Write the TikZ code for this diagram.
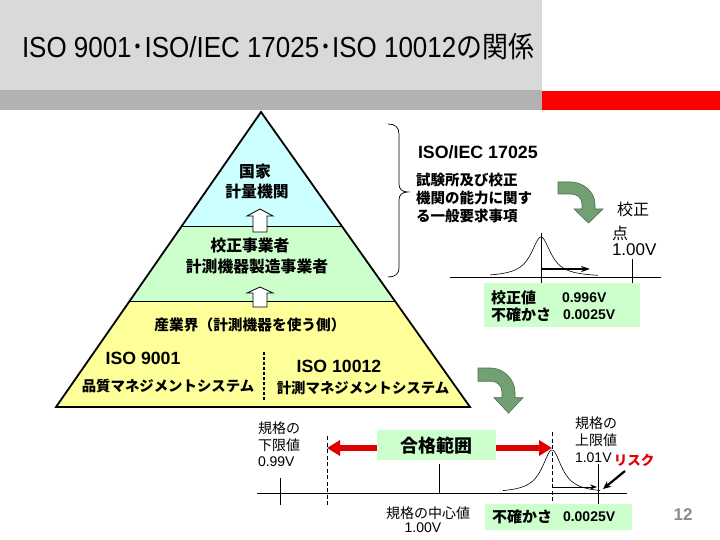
\documentclass[tikz,border=0pt]{standalone}
\usepackage{graphicx}
\usepackage{fontspec}
\setmainfont{Liberation Sans}
\newfontfamily\cjk{Noto Sans CJK JP}
\usetikzlibrary{arrows.meta}
\definecolor{titlegray}{HTML}{D9D9D9}
\definecolor{bandgray}{HTML}{B2B2B2}
\definecolor{bandred}{HTML}{FF0000}
\definecolor{pcyan}{HTML}{CCFFFF}
\definecolor{pgreen}{HTML}{CCFFCC}
\definecolor{pyellow}{HTML}{FFFF99}
\definecolor{boxgreen}{HTML}{CCFFCC}
\definecolor{arrowgreen}{HTML}{72A072}
\definecolor{arrowedge}{HTML}{4A704A}
\definecolor{riskred}{HTML}{E00000}
\definecolor{pagegray}{HTML}{8C8C8C}
\tikzset{
  txt/.style={inner sep=0pt, outer sep=0pt},
  jb/.style={txt, font={\cjk\bfseries\fontsize{#1}{#1}\selectfont}},
  jr/.style={txt, font={\cjk\fontsize{#1}{#1}\selectfont}},
  lb/.style={txt, font={\bfseries\fontsize{#1}{#1}\selectfont}},
  lr/.style={txt, font={\fontsize{#1}{#1}\selectfont}},
  gbox/.style={fill=boxgreen, inner sep=0pt, anchor=north west},
  uparrow/.style={draw=black, fill=white, line width=0.8pt, line join=miter},
  redarrow/.style={draw=riskred, line width=6pt, -{Triangle[length=13pt,width=15pt]}},
  dashline/.style={line width=0.8pt, dash pattern=on 4pt off 2.5pt},
  bendarrow/.pic={
    \filldraw[fill=arrowgreen, draw=arrowedge, line width=0.6pt]
      (0,0) -- (13,0) .. controls (25,0) and (37,10) .. (37,22) -- (37,27)
      -- (45,27) -- (30.5,41) -- (16,27) -- (24,27) -- (24,22)
      .. controls (24,16) and (19,12) .. (13,12) -- (0,12) -- cycle;
  }
}
\begin{document}
\begin{tikzpicture}[x=1pt,y=-1pt]
\useasboundingbox (0,0) rectangle (720,540);
\fill[white] (0,0) rectangle (720,540);
% title band
\fill[titlegray] (0,0) rectangle (542,90);
\fill[bandgray] (0,90) rectangle (542,110);
\fill[bandred] (542,91) rectangle (720,110);
\node[txt, anchor=west] (title) at (22,47) {\fontsize{29}{29}\selectfont\scalebox{0.895}[1]{ISO 9001{\cjk ･}ISO/IEC 17025{\cjk ･}ISO 10012{\cjk の関係}}};
% pyramid
\coordinate (apex) at (261,112);
\coordinate (bl) at (56,407);
\coordinate (br) at (470,407);
\begin{scope}
  \clip (apex) -- (bl) -- (br) -- cycle;
  \fill[pcyan] (0,100) rectangle (720,227);
  \fill[pgreen] (0,227) rectangle (720,301);
  \fill[pyellow] (0,301) rectangle (720,410);
  \draw[line width=1pt] (0,227) -- (720,227);
  \draw[line width=1pt] (0,301) -- (720,301);
\end{scope}
\draw[line width=1.8pt, line join=miter] (apex) -- (bl) -- (br) -- cycle;
\draw[uparrow] (260,209) -- (273,216) -- (267,216) -- (267,232) -- (253,232) -- (253,216) -- (247,216) -- cycle;
\draw[uparrow] (260,287) -- (273,293) -- (267,293) -- (267,307) -- (253,307) -- (253,293) -- (247,293) -- cycle;
\node[jb=15.8] (nat) at (255,172) {国家};
\node[jb=15.8] (natb) at (257,191) {計量機関};
\node[jb=15.8] (cal1) at (250,246) {校正事業者};
\node[jb=15.8] (cal2) at (257,267) {計測機器製造事業者};
\node[jb=14.7] (ind) at (250,325) {産業界（計測機器を使う側）};
\node[lb=17.7] (iso9) at (143,358) {ISO 9001};
\node[jb=14.4] (qms) at (168,386) {品質マネジメントシステム};
\node[lb=17.7] (iso10) at (339,366) {ISO 10012};
\node[jb=14.4] (mms) at (363,388) {計測マネジメントシステム};
\draw[line width=1.8pt, dash pattern=on 3pt off 2pt] (264,352) -- (264,402);
% brace
\draw[line width=0.7pt] (388,124) .. controls (395,124) and (399,127) .. (399,134) -- (399,184)
  .. controls (399,189) and (402,192) .. (408,192)
  .. controls (402,192) and (399,195) .. (399,200) -- (399,268)
  .. controls (399,274) and (395,277) .. (388,277);
\node[lb=17.8, anchor=west] (iec) at (418,152) {ISO/IEC 17025};
\node[jb=14.5, anchor=west] (req1) at (416,180) {試験所及び校正};
\node[jb=14.5, anchor=west] (req2) at (416,198) {機関の能力に関す};
\node[jb=14.5, anchor=west] (req3) at (416,216) {る一般要求事項};
\pic at (558,182) {bendarrow};
% top graph
\node[jr=16, anchor=west] (cp1) at (617,209) {校正};
\node[jr=16, anchor=west] (cp2) at (612,233) {点};
\node[lr=17, anchor=west] (cp3) at (612,250) {1.00V};
\coordinate (ax1l) at (450,277);
\coordinate (ax1r) at (661,277);
\draw[line width=0.8pt] (ax1l) -- (ax1r);
\draw[line width=0.8pt] (541,233) -- (541,283);
\draw[line width=0.8pt] (632,259) -- (632,283);
\draw[line width=0.6pt] plot[domain=490:598, samples=120, smooth] (\x, {277-40/(1+((\x-541)/12)^2)});
\coordinate (u1s) at (541,269);
\coordinate (u1e) at (590,269);
\draw[line width=1.6pt, -{Stealth[length=9pt,width=6pt]}] (u1s) -- (u1e);
\node[gbox, minimum width=156pt, minimum height=44pt] (calbox) at (484,283) {};
\node[jb=15, anchor=west] (cv) at (491,298) {校正値};
\node[lb=14, anchor=west] (cvn) at (562,298) {0.996V};
\node[jb=15, anchor=west] (un) at (491,315) {不確かさ};
\node[lb=14, anchor=west] (unn) at (563,315) {0.0025V};
% bottom graph
\pic[yscale=1.1] at (478,368) {bendarrow};
\draw[line width=0.8pt] (257,493) -- (627,493);
\draw[line width=0.8pt] (280,478) -- (280,505);
\draw[dashline] (327,436) -- (327,505);
\draw[line width=0.8pt] (439,464) -- (439,493);
\draw[dashline] (552,432) -- (552,505);
\draw[line width=0.8pt] (598,464) -- (598,505);
\draw[line width=0.6pt] plot[domain=503:600, samples=120, smooth] (\x, {493-43/(1+((\x-552)/12)^2)});
\node[gbox, minimum width=119pt, minimum height=30pt] (okbox) at (377,430) {};
\node[jb=18] (ok) at (436.5,446) {合格範囲};
\coordinate (rl) at (327,448);
\coordinate (rr) at (552,448);
\draw[redarrow] (okbox.west |- rl) -- (rl);
\draw[redarrow] (okbox.east |- rr) -- (rr);
\coordinate (u2s) at (552,487);
\coordinate (u2e) at (597,487);
\draw[line width=0.8pt, -{Stealth[length=7pt,width=5pt]}] (u2s) -- (u2e);
\node[jr=14, anchor=west] (lo1) at (258,428) {規格の};
\node[jr=14, anchor=west] (lo2) at (258,445) {下限値};
\node[lr=14, anchor=west] (lo3) at (258,462) {0.99V};
\node[jr=14, anchor=west] (hi1) at (575,423) {規格の};
\node[jr=14, anchor=west] (hi2) at (575,440) {上限値};
\node[lr=14, anchor=west] (hi3) at (575,458) {1.01V};
\node[jb=13.5, text=riskred] (risk) at (634,460) {リスク};
\coordinate (rk) at (603,489);
\draw[line width=2.2pt, -{Stealth[length=8pt,width=7pt]}] (625,471) -- (rk);
\node[jr=14] (c1) at (428,513) {規格の中心値};
\node[lr=14] (c2) at (423,528) {1.00V};
\node[gbox, minimum width=147pt, minimum height=26pt] (unbox) at (485,504) {};
\node[jb=15, anchor=west] (un2) at (492,517) {不確かさ};
\node[lb=14, anchor=west] (un2n) at (563,517) {0.0025V};
\node[lb=17, text=pagegray] (page) at (683,515) {12};
\end{tikzpicture}
\end{document}
